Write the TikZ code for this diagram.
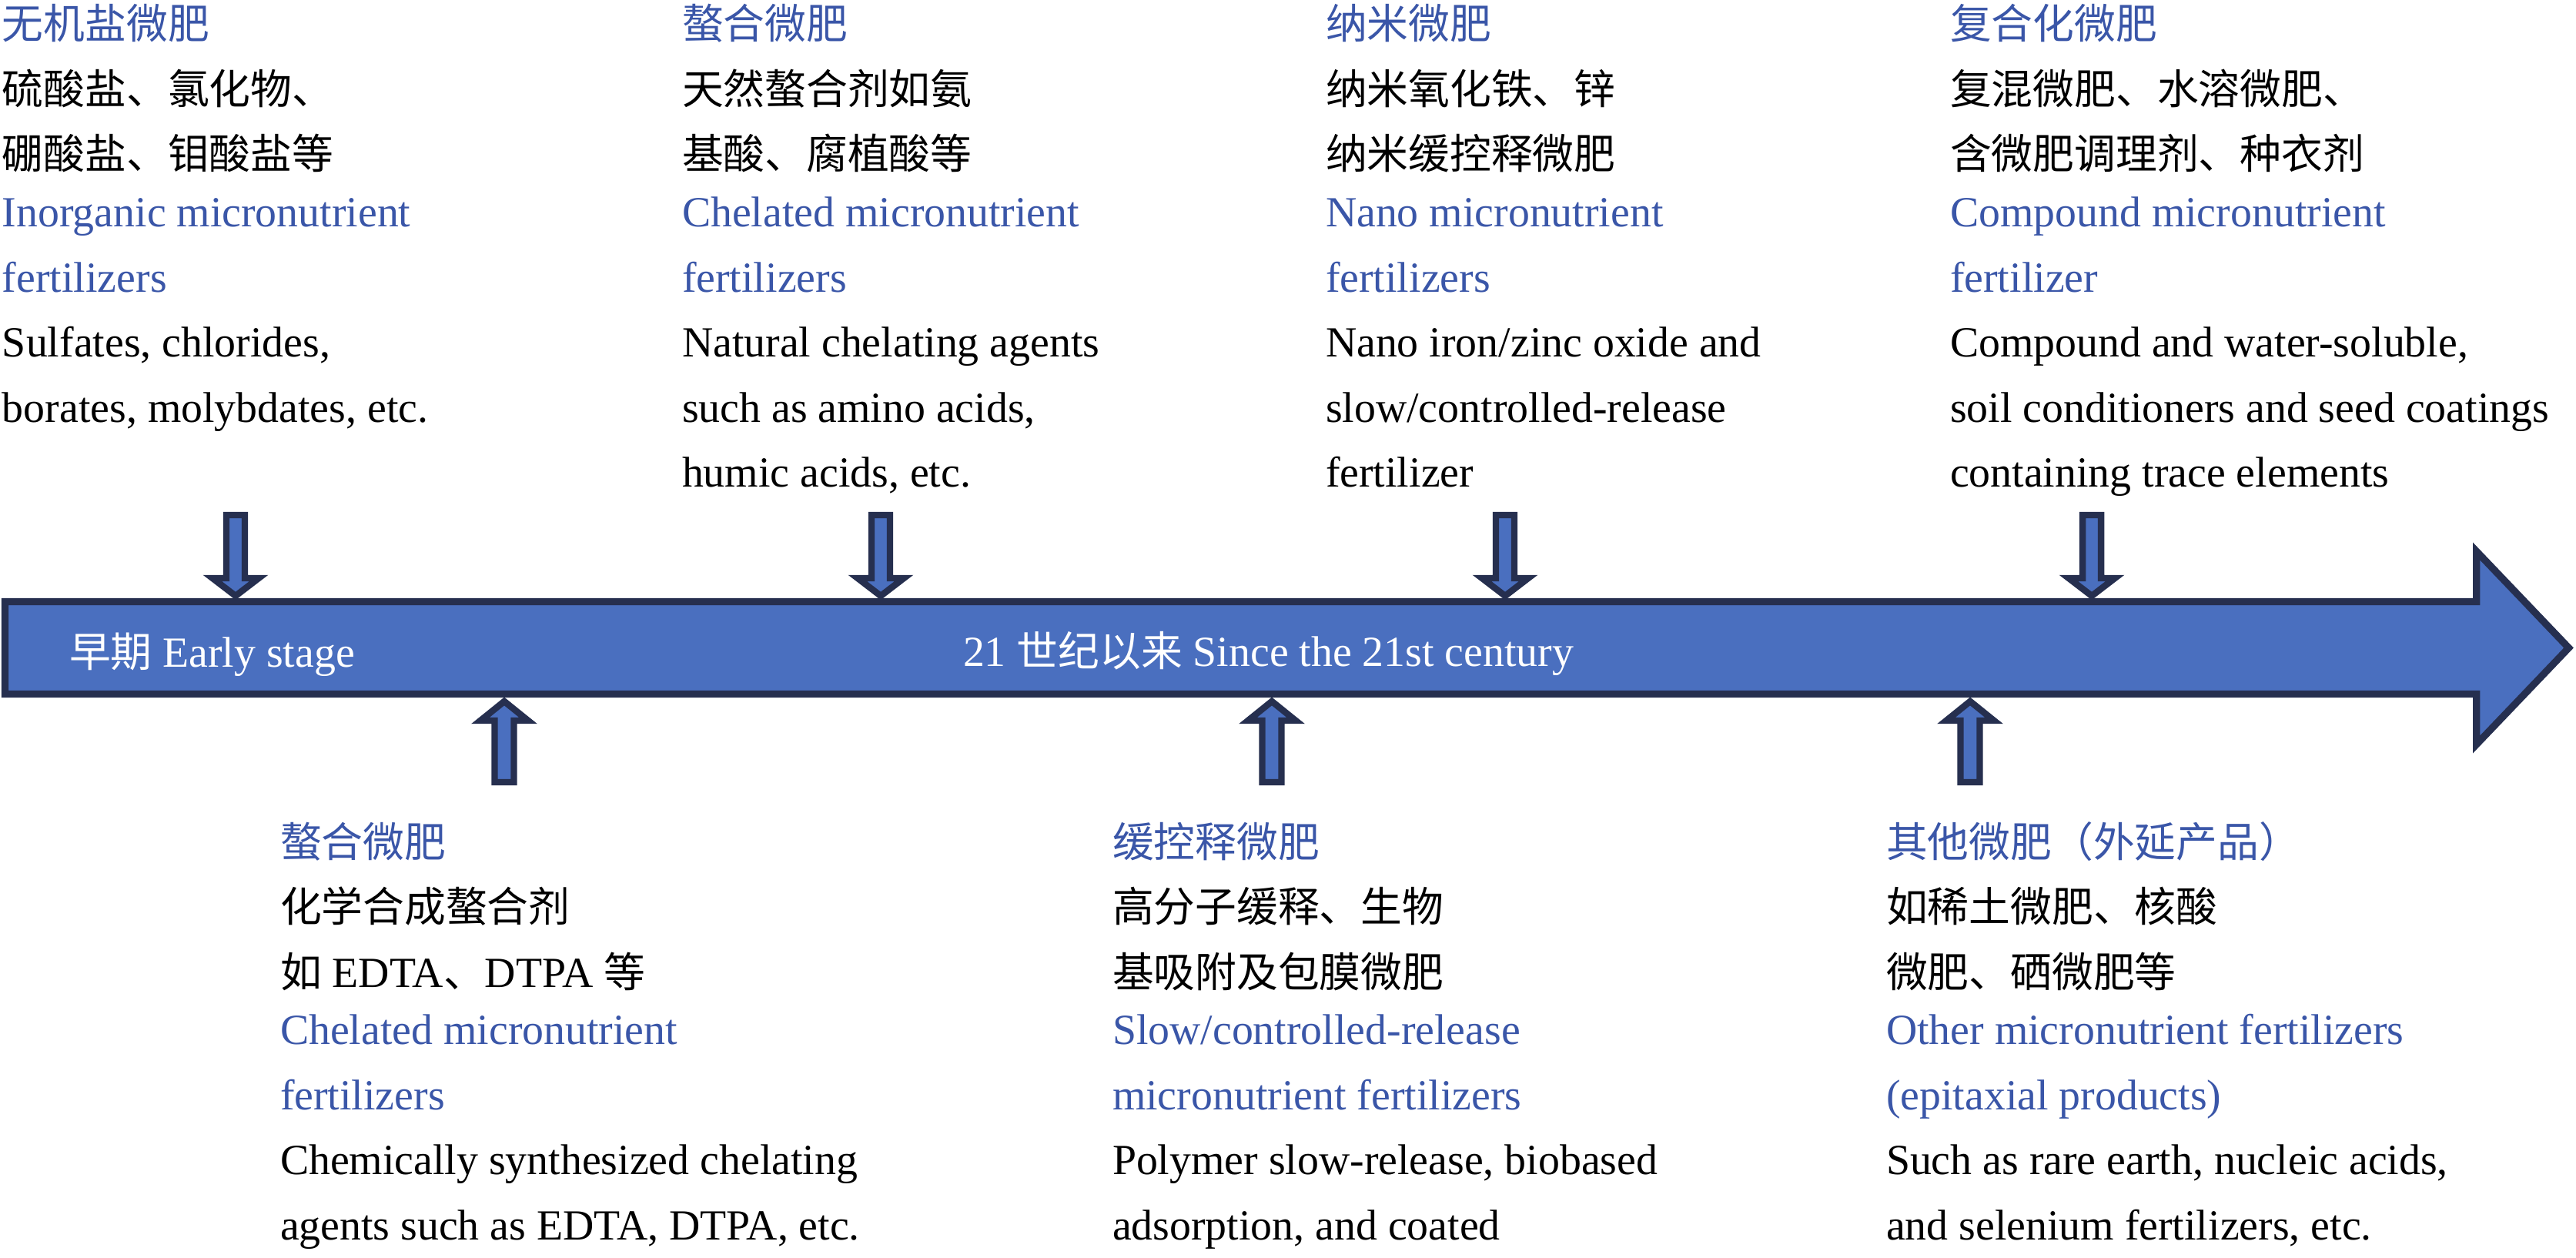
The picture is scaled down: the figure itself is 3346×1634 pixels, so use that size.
\documentclass[tikz,border=0pt]{standalone}
\usepackage{fontspec}
\setmainfont{Liberation Serif}
\newfontfamily\cjk{Noto Sans CJK SC}[Scale=0.964]
\newcommand\zhs[1]{{\cjk #1}}
\definecolor{hb}{RGB}{58,86,168}
\definecolor{arrfill}{RGB}{74,111,191}
\definecolor{arrdraw}{RGB}{38,47,79}
\tikzset{
  blk/.style={anchor=base west, inner sep=0pt, outer sep=0pt,
    font=\fontsize{13.95pt}{21.125pt}\selectfont},
  bartext/.style={anchor=base west, inner sep=0pt, outer sep=0pt, text=white,
    font=\fontsize{13.95pt}{21.125pt}\selectfont},
  mainarr/.style={fill=arrfill, draw=arrdraw, line width=2.3pt, line join=miter},
  sarr/.style={fill=arrfill, draw=arrdraw, line width=2.1pt, line join=miter}
}
\newcommand\mydnarr[1]{%
  \draw[sarr] (#1-12,669) -- (#1+12,669) -- (#1+12,751) -- (#1+30,751) -- (#1,774)
    -- (#1-30,751) -- (#1-12,751) -- cycle;}
\newcommand\myuparr[1]{%
  \draw[sarr] (#1-12.5,1016) -- (#1+12.5,1016) -- (#1+12.5,936) -- (#1+31,936) -- (#1,911)
    -- (#1-31,936) -- (#1-12.5,936) -- cycle;}
\newcommand\blocktext[1]{\parbox[t]{240pt}{\raggedright #1}}
\begin{document}
\begin{tikzpicture}[x=0.25pt,y=-0.25pt]
\useasboundingbox (0,0) rectangle (3346,1634);
% main timeline arrow
\draw[mainarr] (6.6,781.6) -- (3216.6,781.6) -- (3216.6,716) -- (3336.5,841.5)
  -- (3216.6,967) -- (3216.6,901.4) -- (6.6,901.4) -- cycle;
\node[bartext] (early) at (90,866) {\zhs{早期} Early stage};
\node[bartext] (since) at (1251,865) {21 \zhs{世纪以来} Since the 21st century};
% small arrows
\mydnarr{306}
\mydnarr{1144}
\mydnarr{1955}
\mydnarr{2717}
\myuparr{655}
\myuparr{1652}
\myuparr{2559}
% top blocks
\node[blk] (A) at (3,51) {\blocktext{%
\textcolor{hb}{\zhs{无机盐微肥}}\\
\zhs{硫酸盐、氯化物、}\\
\zhs{硼酸盐、钼酸盐等}\\[-2.4pt]
\textcolor{hb}{Inorganic micronutrient}\\
\textcolor{hb}{fertilizers}\\
Sulfates, chlorides,\\
borates, molybdates, etc.}};
\node[blk] (B) at (886,51) {\blocktext{%
\textcolor{hb}{\zhs{螯合微肥}}\\
\zhs{天然螯合剂如氨}\\
\zhs{基酸、腐植酸等}\\[-2.4pt]
\textcolor{hb}{Chelated micronutrient}\\
\textcolor{hb}{fertilizers}\\
Natural chelating agents\\
such as amino acids,\\
humic acids, etc.}};
\node[blk] (C) at (1722,51) {\blocktext{%
\textcolor{hb}{\zhs{纳米微肥}}\\
\zhs{纳米氧化铁、锌}\\
\zhs{纳米缓控释微肥}\\[-2.4pt]
\textcolor{hb}{Nano micronutrient}\\
\textcolor{hb}{fertilizers}\\
Nano iron/zinc oxide and\\
slow/controlled-release\\
fertilizer}};
\node[blk] (D) at (2533,51) {\blocktext{%
\textcolor{hb}{\zhs{复合化微肥}}\\
\zhs{复混微肥、水溶微肥、}\\
\zhs{含微肥调理剂、种衣剂}\\[-2.4pt]
\textcolor{hb}{Compound micronutrient}\\
\textcolor{hb}{fertilizer}\\
Compound and water-soluble,\\
soil conditioners and seed coatings\\
containing trace elements}};
% bottom blocks
\node[blk] (E) at (364,1113) {\blocktext{%
\textcolor{hb}{\zhs{螯合微肥}}\\
\zhs{化学合成螯合剂}\\
\zhs{如} EDTA\zhs{、}DTPA \zhs{等}\\[-2.4pt]
\textcolor{hb}{Chelated micronutrient}\\
\textcolor{hb}{fertilizers}\\
Chemically synthesized chelating\\
agents such as EDTA, DTPA, etc.}};
\node[blk] (F) at (1445,1113) {\blocktext{%
\textcolor{hb}{\zhs{缓控释微肥}}\\
\zhs{高分子缓释、生物}\\
\zhs{基吸附及包膜微肥}\\[-2.4pt]
\textcolor{hb}{Slow/controlled-release}\\
\textcolor{hb}{micronutrient fertilizers}\\
Polymer slow-release, biobased\\
adsorption, and coated}};
\node[blk] (G) at (2450,1113) {\blocktext{%
\textcolor{hb}{\zhs{其他微肥（外延产品）}}\\
\zhs{如稀土微肥、核酸}\\
\zhs{微肥、硒微肥等}\\[-2.4pt]
\textcolor{hb}{Other micronutrient fertilizers}\\
\textcolor{hb}{(epitaxial products)}\\
Such as rare earth, nucleic acids,\\
and selenium fertilizers, etc.}};
\end{tikzpicture}
\end{document}
